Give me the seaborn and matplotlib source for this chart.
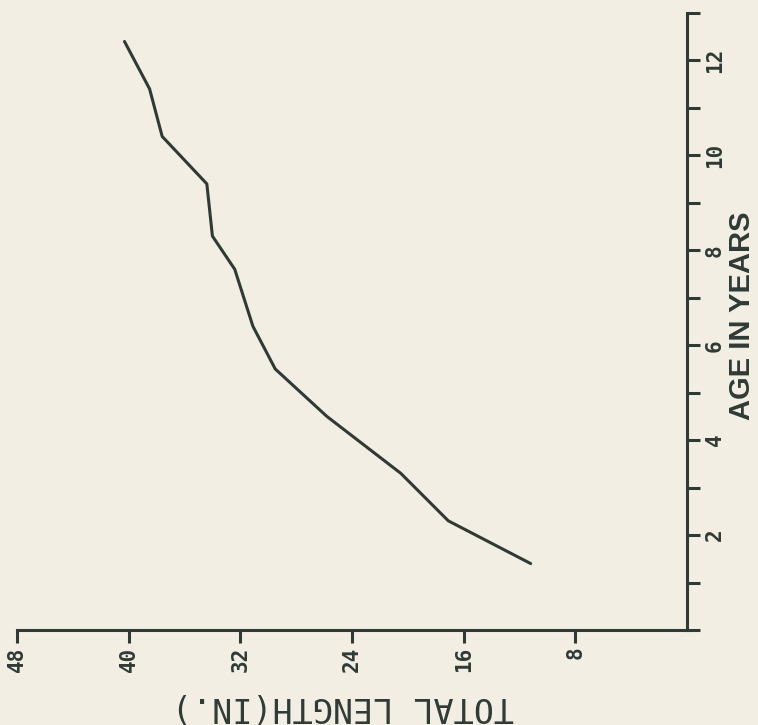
import matplotlib
matplotlib.use("Agg")
import matplotlib.pyplot as plt
import seaborn as sns
import pandas as pd
from matplotlib.ticker import MultipleLocator

# growth curve (age in years vs total length in inches)
age_years = [1.4, 2.3, 3.3, 4.5, 5.5, 6.4, 7.6, 8.3, 9.4, 10.4, 11.4, 12.4]
length_in = [11.2, 17.1, 20.5, 25.8, 29.5, 31.1, 32.4, 34.0, 34.4, 37.6, 38.5, 40.3]

length_ticks = [8, 16, 24, 32, 40, 48]
age_ticks = [2, 4, 6, 8, 10, 12]

paper = "#f3eee4"
ink = "#2f3a34"


def main():
    sns.set_theme(style="ticks")
    plt.rcParams["font.family"] = ["DejaVu Sans Mono", "DejaVu Sans"]

    df = pd.DataFrame({"age": age_years, "length": length_in})

    fig = plt.figure(figsize=(7.58, 7.25), dpi=100, facecolor=paper)
    ax = fig.add_axes([17 / 758, 1 - 630 / 725, 670 / 758, 617 / 725])
    ax.set_facecolor(paper)

    # chart is printed turned on its side: length runs right-to-left, age runs up
    sns.lineplot(data=df, x="length", y="age", sort=False, estimator=None,
                 color=ink, linewidth=2.2, ax=ax)

    ax.set_xlim(48, 0)
    ax.set_ylim(0, 13)

    for side in ["top", "left"]:
        ax.spines[side].set_visible(False)
    for side in ["bottom", "right"]:
        ax.spines[side].set_color(ink)
        ax.spines[side].set_linewidth(2.2)

    ax.yaxis.tick_right()
    ax.set_xticks(length_ticks)
    ax.set_xticklabels([str(t) for t in length_ticks], rotation=90)
    ax.set_yticks(age_ticks)
    ax.set_yticklabels([str(t) for t in age_ticks], rotation=90, va="center")
    ax.yaxis.set_minor_locator(MultipleLocator(1))

    ax.tick_params(axis="both", which="both", direction="out", length=9,
                   width=2.2, color=ink, labelcolor=ink, labelsize=15)
    ax.tick_params(axis="x", pad=3)
    ax.tick_params(axis="y", pad=4)
    for lab in ax.get_xticklabels() + ax.get_yticklabels():
        lab.set_fontweight("bold")

    ax.set_xlabel("TOTAL LENGTH(IN.)", fontsize=24, color=ink, rotation=180,
                  family=["DejaVu Sans Mono"])
    ax.xaxis.set_label_coords(0.487, -0.124)
    ax.xaxis.label.set_va("center")
    ax.xaxis.label.set_ha("center")

    ax.yaxis.set_label_position("right")
    ax.set_ylabel("AGE IN YEARS", fontsize=21, color=ink, rotation=90,
                  family=["Liberation Sans", "DejaVu Sans"], fontweight="bold")
    ax.yaxis.set_label_coords(1.082, 0.509)
    ax.yaxis.label.set_va("center")
    ax.yaxis.label.set_ha("center")

    fig.savefig("out.png", dpi=100, facecolor=paper)


if __name__ == "__main__":
    main()
